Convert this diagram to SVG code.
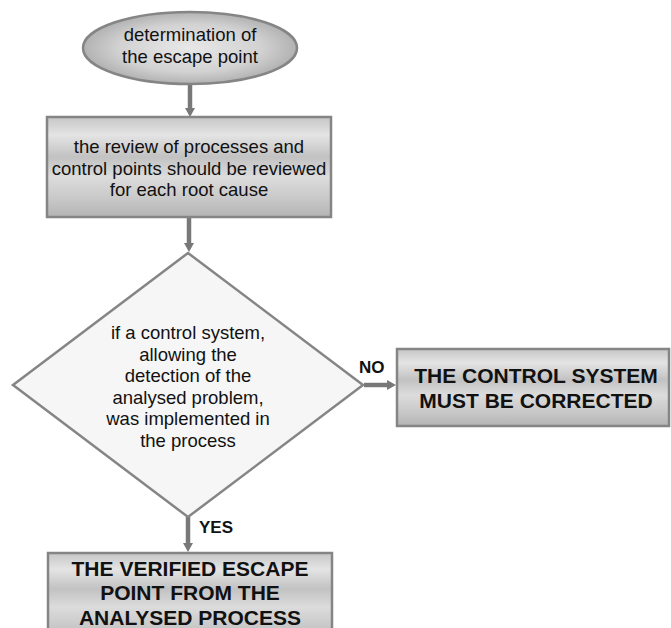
<svg xmlns="http://www.w3.org/2000/svg" width="671" height="628" viewBox="0 0 671 628">
<defs>
<style>
.lbl{font-family:"Liberation Sans",Arial,sans-serif;font-size:18.5px;fill:#111;text-anchor:middle}
.big{font-family:"Liberation Sans",Arial,sans-serif;font-size:21px;font-weight:bold;fill:#111;text-anchor:middle}
.br{font-family:"Liberation Sans",Arial,sans-serif;font-size:17px;font-weight:bold;fill:#111}
.shape{stroke:#858585;stroke-width:2.5}
.conn{stroke:#787878;stroke-width:4.5;fill:none}
</style>
<linearGradient id="metal" x1="0" y1="0" x2="0" y2="1">
<stop offset="0" stop-color="#c6c6c6"/>
<stop offset="0.18" stop-color="#e4e4e4"/>
<stop offset="0.4" stop-color="#c2c2c2"/>
<stop offset="0.6" stop-color="#dcdcdc"/>
<stop offset="0.82" stop-color="#c8c8c8"/>
<stop offset="1" stop-color="#b4b4b4"/>
</linearGradient>
<radialGradient id="ell" cx="0.5" cy="0.5" r="0.55">
<stop offset="0" stop-color="#e8e8e8"/>
<stop offset="0.6" stop-color="#d2d2d2"/>
<stop offset="1" stop-color="#a8a8a8"/>
</radialGradient>
<marker id="arr" markerUnits="userSpaceOnUse" markerWidth="9" markerHeight="10" viewBox="0 0 9 10" refX="1" refY="5" orient="auto">
<path d="M0,0 L9,5 L0,10 z" fill="#787878"/>
</marker>
</defs>
<g id="connectors">
<line class="conn" x1="190" y1="84" x2="190" y2="109" marker-end="url(#arr)"/>
<line class="conn" x1="189" y1="218" x2="189" y2="244" marker-end="url(#arr)"/>
<line class="conn" x1="364" y1="385" x2="388" y2="385" marker-end="url(#arr)"/>
<line class="conn" x1="188" y1="517" x2="188" y2="544" marker-end="url(#arr)"/>
<text class="br" x="359" y="372.5">NO</text>
<text class="br" x="199" y="533">YES</text>
</g>
<g id="start">
<ellipse class="shape" cx="190" cy="48" rx="107" ry="36" fill="url(#ell)"/>
<text class="lbl" x="190" y="41">determination of</text>
<text class="lbl" x="190" y="62.5">the escape point</text>
</g>
<g id="review">
<rect class="shape" x="47" y="117" width="284" height="100" fill="url(#metal)"/>
<text class="lbl" x="189" y="153">the review of processes and</text>
<text class="lbl" x="189" y="174.5">control points should be reviewed</text>
<text class="lbl" x="189" y="196">for each root cause</text>
</g>
<g id="decision">
<polygon class="shape" points="188,253 363,385 188,517 13,385" fill="#f6f6f6"/>
<text class="lbl" x="188" y="339">if a control system,</text>
<text class="lbl" x="188" y="360.5">allowing the</text>
<text class="lbl" x="188" y="382">detection of the</text>
<text class="lbl" x="188" y="403.5">analysed problem,</text>
<text class="lbl" x="188" y="425">was implemented in</text>
<text class="lbl" x="188" y="446.5">the process</text>
</g>
<g id="correct">
<rect class="shape" x="397" y="349" width="272" height="77" fill="url(#metal)"/>
<text class="big" x="536" y="382.5">THE CONTROL SYSTEM</text>
<text class="big" x="536" y="407.5">MUST BE CORRECTED</text>
</g>
<g id="verified">
<rect class="shape" x="48" y="553" width="284" height="90" fill="url(#metal)"/>
<text class="big" x="190" y="575.5">THE VERIFIED ESCAPE</text>
<text class="big" x="190" y="600">POINT FROM THE</text>
<text class="big" x="190" y="624.5">ANALYSED PROCESS</text>
</g>
</svg>
